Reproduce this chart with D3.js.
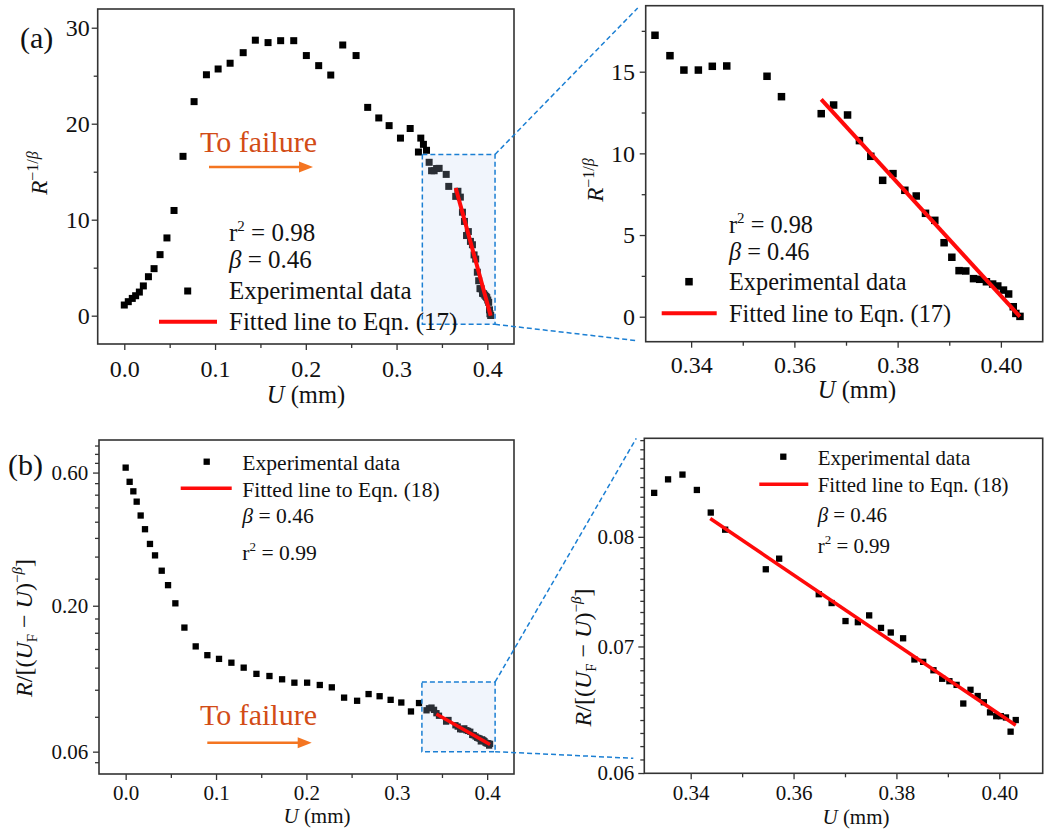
<!DOCTYPE html>
<html>
<head>
<meta charset="utf-8">
<script src="https://cdn.jsdelivr.net/npm/d3@7"></script>
<style>
  body { margin: 0; background: #fff; }
  svg { font-family: "Liberation Serif", "Times New Roman", serif; }
</style>
</head>
<body>
<div id="chart"></div>
<script>
// values

// (a) R^(-1/beta) vs U
const uA = [0, 0.0044, 0.0088, 0.0125, 0.0166, 0.021, 0.0266, 0.0328, 0.0394, 0.047,
  0.0548, 0.0647, 0.0769, 0.0905, 0.1034, 0.1166, 0.131, 0.1444, 0.1584, 0.1723,
  0.1867, 0.2006, 0.2142, 0.2275, 0.2407, 0.2554, 0.2682, 0.2804, 0.2918, 0.3043,
  0.315, 0.3241, 0.3267, 0.3296,
  0.333, 0.3359, 0.3386, 0.3414, 0.3441, 0.3469, 0.3547, 0.3575,
  0.3652, 0.3676, 0.3703, 0.3726, 0.3748, 0.3771, 0.3791, 0.3814, 0.3836, 0.3854,
  0.3872, 0.389, 0.3905, 0.3919, 0.3932, 0.3947, 0.3959, 0.3972, 0.3984, 0.3994,
  0.4005, 0.4015, 0.4024, 0.4029, 0.4037];
const rA = [1.11, 1.46, 1.8, 2.08, 2.46, 3.1, 4.06, 4.9, 6.36, 8.1,
  10.96, 16.6, 22.3, 25.1, 25.7, 26.3, 27.4, 28.7, 28.45, 28.65,
  28.65, 27.1, 26.05, 25.07, 28.2, 27.1, 21.7, 20.6, 19.8, 18.5,
  19.5, 17.05, 18.5, 17.85,
  17.23, 15.98, 15.1, 15.1, 15.33, 15.35, 14.72, 13.47,
  12.43, 12.96, 12.35, 10.78, 9.82, 8.35, 8.76, 7.74, 7.39, 6.33,
  5.9, 4.53, 3.64, 2.82, 2.8, 2.33, 2.29, 2.14, 2.0, 1.88,
  1.63, 1.39, 0.61, 0.2, 0.02];
const fitUA = [0.3652, 0.4037];
const fitRA = [13.3, 0.0];
const boxUA = [0.3284, 0.4085];
const boxRA = [-0.9, 16.8];

// (b) R/[(UF-U)^-beta] vs U
const uB = [0, 0.0044, 0.0085, 0.0122, 0.0166, 0.0214, 0.0269, 0.0325, 0.0399, 0.0469,
  0.055, 0.065, 0.0775, 0.0904, 0.1033, 0.117, 0.1306, 0.1447, 0.1591, 0.1731,
  0.1867, 0.2008, 0.2148, 0.2281, 0.2417, 0.2561, 0.2688, 0.281, 0.2932, 0.305,
  0.3157, 0.3246,
  0.3329, 0.3356, 0.3384, 0.3412, 0.3439, 0.3467, 0.3546, 0.3572,
  0.3649, 0.3674, 0.3701, 0.3725, 0.3747, 0.377, 0.3789, 0.3813,
  0.3835, 0.3852, 0.3872, 0.3889, 0.3903, 0.3917,
  0.393, 0.3944, 0.3958, 0.397, 0.3982, 0.3994,
  0.4003, 0.4013, 0.4022, 0.4032];
const rB = [0.625, 0.556, 0.514, 0.472, 0.421, 0.376, 0.333, 0.303, 0.267, 0.237,
  0.204, 0.167, 0.143, 0.133, 0.129, 0.125, 0.120, 0.114, 0.112, 0.109,
  0.106, 0.106, 0.104, 0.102, 0.0937, 0.0913, 0.0965, 0.0948, 0.092, 0.090,
  0.0836, 0.0896,
  0.0844, 0.0858, 0.0863, 0.0847, 0.0824, 0.0807, 0.0769, 0.0779,
  0.0746, 0.0738, 0.0722, 0.0721, 0.0727, 0.0716, 0.0712, 0.0707,
  0.0689, 0.0687, 0.0680, 0.0673, 0.0671, 0.0668,
  0.0653, 0.0664, 0.0659, 0.0654, 0.0646, 0.0643,
  0.0643, 0.0642, 0.0631, 0.0640];
const fitUB = [0.3438, 0.4032];
const fitRB = [0.0818, 0.0636];
const boxUB = [0.3278, 0.4088];
const boxRB = [0.06, 0.1066];

// ticks
const xTicksFull = [0, 0.1, 0.2, 0.3, 0.4];
const xMinorFull = [0.05, 0.15, 0.25, 0.35];
const xTicksZoom = [0.34, 0.36, 0.38, 0.40];
const xMinorZoom = [0.35, 0.37, 0.39];
const yTicksA = [0, 10, 20, 30];
const yMinorA = [5, 15, 25];
const yTicksAZ = [0, 5, 10, 15];
const yMinorAZ = [2.5, 7.5, 12.5, 17.5];
const yTicksB = [0.06, 0.2, 0.6];
const yMinorB = [0.055, 0.08, 0.10, 0.12, 0.14, 0.16, 0.18,
  0.25, 0.3, 0.35, 0.4, 0.45, 0.5, 0.55, 0.65, 0.7, 0.75];
const yTicksBZ = [0.06, 0.07, 0.08];
const yMinorBZ = [0.061, 0.062, 0.063, 0.064, 0.065, 0.066, 0.067, 0.068, 0.069,
  0.071, 0.072, 0.073, 0.074, 0.075, 0.076, 0.077, 0.078, 0.079,
  0.081, 0.082, 0.083, 0.084, 0.085, 0.086, 0.087, 0.088, 0.089, 0.090];

const RED = "#ff0a0a";
const BLUE = "#1b7fd3";
const FRAME = "#333";

const svg = d3.select("#chart").append("svg")
  .attr("width", 1061)
  .attr("height", 833);

function makePanel(box, xDomain, yDomain, yLog) {
  const x = d3.scaleLinear().domain(xDomain).range([box.x0, box.x1]);
  const y = (yLog ? d3.scaleLog() : d3.scaleLinear()).domain(yDomain).range([box.y1, box.y0]);
  return { x: x, y: y, box: box };
}

function drawAxes(p, o) {
  const b = p.box;
  const styleAxis = g => {
    g.select(".domain").remove();
    g.selectAll("line").attr("stroke", FRAME).attr("stroke-width", 1.3);
    g.attr("font-family", "Liberation Serif, serif")
      .attr("font-size", o.font)
      .selectAll("text").attr("fill", "#111");
  };
  svg.append("g").attr("transform", `translate(0,${b.y1})`)
    .call(d3.axisBottom(p.x).tickValues(o.xMinor).tickSize(4).tickFormat(""))
    .call(styleAxis);
  svg.append("g").attr("transform", `translate(0,${b.y1})`)
    .call(d3.axisBottom(p.x).tickValues(o.xTicks).tickSize(6).tickPadding(o.xPad)
      .tickFormat(d3.format(o.xFmt)))
    .call(styleAxis);
  svg.append("g").attr("transform", `translate(${b.x0},0)`)
    .call(d3.axisLeft(p.y).tickValues(o.yMinor).tickSize(4).tickFormat(""))
    .call(styleAxis);
  svg.append("g").attr("transform", `translate(${b.x0},0)`)
    .call(d3.axisLeft(p.y).tickValues(o.yTicks).tickSize(6).tickPadding(o.yPad)
      .tickFormat(d3.format(o.yFmt)))
    .call(styleAxis);

  svg.append("rect")
    .attr("x", b.x0).attr("y", b.y0)
    .attr("width", b.x1 - b.x0).attr("height", b.y1 - b.y0)
    .attr("fill", "none")
    .attr("stroke", FRAME)
    .attr("stroke-width", 1.6);
}

function drawPoints(p, us, vs, size) {
  const xd = p.x.domain(), yd = p.y.domain();
  const pts = us.map((u, i) => ({ u: u, v: vs[i] }))
    .filter(d => d.u >= xd[0] && d.u <= xd[1] && d.v >= yd[0] && d.v <= yd[1]);
  svg.append("g").selectAll("rect")
    .data(pts)
    .enter()
    .append("rect")
    .attr("x", d => p.x(d.u) - size / 2)
    .attr("y", d => p.y(d.v) - size / 2)
    .attr("width", size)
    .attr("height", size)
    .attr("fill", "#000");
}

function drawFit(p, us, vs, w) {
  const line = d3.line().x(d => p.x(d[0])).y(d => p.y(d[1]));
  svg.append("path")
    .datum(us.map((u, i) => [u, vs[i]]))
    .attr("d", line)
    .attr("fill", "none")
    .attr("stroke", RED)
    .attr("stroke-width", w);
}

function drawZoomBox(p, bu, bv) {
  svg.append("rect")
    .attr("x", p.x(bu[0]))
    .attr("y", p.y(bv[1]))
    .attr("width", p.x(bu[1]) - p.x(bu[0]))
    .attr("height", p.y(bv[0]) - p.y(bv[1]))
    .attr("fill", "rgb(192,210,241)")
    .attr("fill-opacity", 0.22)
    .attr("stroke", BLUE)
    .attr("stroke-width", 1.5)
    .attr("stroke-dasharray", "5,3");
}

function connector(x1, y1, x2, y2) {
  svg.append("line")
    .attr("x1", x1).attr("y1", y1).attr("x2", x2).attr("y2", y2)
    .attr("stroke", BLUE)
    .attr("stroke-width", 1.5)
    .attr("stroke-dasharray", "5,3");
}

// rich text: parts = [text, italic, size, dy]
function richText(x, y, parts, size, opts) {
  opts = opts || {};
  const t = svg.append("text")
    .attr("font-size", size)
    .attr("fill", opts.fill || "#111")
    .attr("text-anchor", opts.anchor || "start");
  if (opts.rotate) {
    t.attr("transform", `translate(${x},${y}) rotate(-90)`);
  } else {
    t.attr("x", x).attr("y", y);
  }
  parts.forEach(pt => {
    const s = t.append("tspan").text(pt[0]);
    if (pt[1]) s.attr("font-style", "italic");
    if (pt[2]) s.attr("font-size", pt[2]);
    if (pt[3]) s.attr("dy", pt[3]);
  });
  return t;
}

function legendSquare(cx, cy, size) {
  svg.append("rect")
    .attr("x", cx - size / 2).attr("y", cy - size / 2)
    .attr("width", size).attr("height", size)
    .attr("fill", "#000");
}

function legendLine(x1, x2, y, w) {
  svg.append("line")
    .attr("x1", x1).attr("x2", x2).attr("y1", y).attr("y2", y)
    .attr("stroke", RED).attr("stroke-width", w);
}

function failureArrow(tx, ty, x1, x2, ay) {
  svg.append("text")
    .attr("x", tx).attr("y", ty)
    .attr("font-size", 30)
    .attr("fill", "#d24c16")
    .text("To failure");
  svg.append("line")
    .attr("x1", x1).attr("x2", x2 - 10).attr("y1", ay).attr("y2", ay)
    .attr("stroke", "#f47521").attr("stroke-width", 2.6);
  svg.append("path")
    .attr("d", `M${x2},${ay} L${x2 - 14},${ay - 5.5} L${x2 - 14},${ay + 5.5} Z`)
    .attr("fill", "#f47521");
}

// ---------- panels ----------
const pA = makePanel({ x0: 97.7, x1: 514, y0: 9, y1: 344 }, [-0.0293, 0.4294], [-2.95, 31.95], false);
const pAZ = makePanel({ x0: 645.7, x1: 1042.7, y0: 5.7, y1: 341.7 }, [0.3312, 0.4081], [-1.53, 19.04], false);
const pB = makePanel({ x0: 99, x1: 514, y0: 440, y1: 774 }, [-0.0295, 0.4297], [0.0499, 0.785], true);
const pBZ = makePanel({ x0: 644.3, x1: 1042.7, y0: 438.3, y1: 773.3 }, [0.33098, 0.40844], [0.05998, 0.0902], true);

// (a) left
drawPoints(pA, uA, rA, 7);
drawZoomBox(pA, boxUA, boxRA);
drawFit(pA, fitUA, fitRA, 4);
drawAxes(pA, { xTicks: xTicksFull, xMinor: xMinorFull, xFmt: ".1f", xPad: 10,
  yTicks: yTicksA, yMinor: yMinorA, yFmt: "d", yPad: 2, font: 24 });

// (a) right
drawPoints(pAZ, uA, rA, 7.5);
drawFit(pAZ, fitUA, fitRA, 4);
drawAxes(pAZ, { xTicks: xTicksZoom, xMinor: xMinorZoom, xFmt: ".2f", xPad: 8.6,
  yTicks: yTicksAZ, yMinor: yMinorAZ, yFmt: "d", yPad: 4.7, font: 24 });

// (b) left
drawPoints(pB, uB, rB, 6.3);
drawZoomBox(pB, boxUB, boxRB);
drawFit(pB, fitUB, fitRB, 3.5);
drawAxes(pB, { xTicks: xTicksFull, xMinor: xMinorFull, xFmt: ".1f", xPad: 5,
  yTicks: yTicksB, yMinor: yMinorB, yFmt: ".2f", yPad: 4.7, font: 21 });

// (b) right
drawPoints(pBZ, uB, rB, 6.3);
drawFit(pBZ, fitUB, fitRB, 3.5);
drawAxes(pBZ, { xTicks: xTicksZoom, xMinor: xMinorZoom, xFmt: ".2f", xPad: 6,
  yTicks: yTicksBZ, yMinor: yMinorBZ, yFmt: ".2f", yPad: 4, font: 21 });

// connectors from zoom boxes to the right panels
connector(pA.x(boxUA[1]), pA.y(boxRA[1]), pAZ.box.x0 - 8, pAZ.box.y0 + 2.3);
connector(pA.x(boxUA[1]), pA.y(boxRA[0]), pAZ.box.x0 - 9, pAZ.box.y1 - 1);
connector(pB.x(boxUB[1]), pB.y(boxRB[1]), pBZ.box.x0 - 8, pBZ.box.y0);
connector(pB.x(boxUB[1]), pB.y(boxRB[0]), pBZ.box.x0 - 11, pBZ.box.y1 - 15);

// panel letters
svg.append("text").attr("x", 20).attr("y", 48).attr("font-size", 30).attr("fill", "#111").text("(a)");
svg.append("text").attr("x", 8).attr("y", 474.6).attr("font-size", 30).attr("fill", "#111").text("(b)");

// axis titles
const xTitle = [["U", true], [" (mm)"]];
richText(306, 403, xTitle, 24.5, { anchor: "middle" });
richText(857, 398, xTitle, 24.5, { anchor: "middle" });
richText(317, 822.6, xTitle, 21, { anchor: "middle" });
richText(856, 824, xTitle, 21, { anchor: "middle" });

const yTitleA = [["R", true], ["\u22121/", false, 16, -9], ["\u03b2", true, 16]];
richText(46.7, 173, yTitleA, 23, { anchor: "middle", rotate: true });
richText(603, 180, yTitleA, 23, { anchor: "middle", rotate: true });

const yTitleB = [["R", true], ["/[("], ["U", true], ["F", false, 15, 5],
  [" \u2212 ", false, null, -5], ["U", true], [")"],
  ["\u2212", false, 15, -10], ["\u03b2", true, 15], ["]", false, null, 10]];
richText(31.7, 628, yTitleB, 24, { anchor: "middle", rotate: true });
richText(591, 657.5, yTitleB, 24, { anchor: "middle", rotate: true });

// legends (a)
const r2a = [["r"], ["2", false, 15, -10], [" = 0.98", false, null, 10]];
const betaTxt = [["\u03b2", true], [" = 0.46"]];
richText(229, 240.7, r2a, 25);
richText(229, 268, betaTxt, 25);
legendSquare(187.7, 291, 7);
richText(229, 299, [["Experimental data"]], 25);
legendLine(159, 217, 321.7, 4);
richText(229, 330, [["Fitted line to Eqn. (17)"]], 25);

richText(729, 233, r2a, 24.3);
richText(729, 260, betaTxt, 24.3);
legendSquare(689, 281.7, 7.5);
richText(729, 290, [["Experimental data"]], 24.3);
legendLine(661.7, 716.7, 313.3, 4);
richText(729, 321.7, [["Fitted line to Eqn. (17)"]], 24.3);

// legends (b)
const r2b = [["r"], ["2", false, 13, -9], [" = 0.99", false, null, 9]];
legendSquare(206.7, 461.7, 6.3);
richText(242.3, 470, [["Experimental data"]], 21.6);
legendLine(180.7, 231.7, 488.3, 3.5);
richText(242.3, 496.7, [["Fitted line to Eqn. (18)"]], 21.6);
richText(242.3, 523, betaTxt, 21.6);
richText(242.3, 560, r2b, 21.6);

legendSquare(783.3, 456.7, 6.3);
richText(817.7, 465, [["Experimental data"]], 20.9);
legendLine(759.3, 808.3, 484.3, 3.5);
richText(817.7, 492, [["Fitted line to Eqn. (18)"]], 20.9);
richText(817.7, 521.7, betaTxt, 20.9);
richText(817.7, 553, r2b, 20.9);

// "To failure" arrows
failureArrow(200, 151.7, 209, 313, 167);
failureArrow(200, 725, 207.3, 311.7, 742.7);
</script>
</body>
</html>
